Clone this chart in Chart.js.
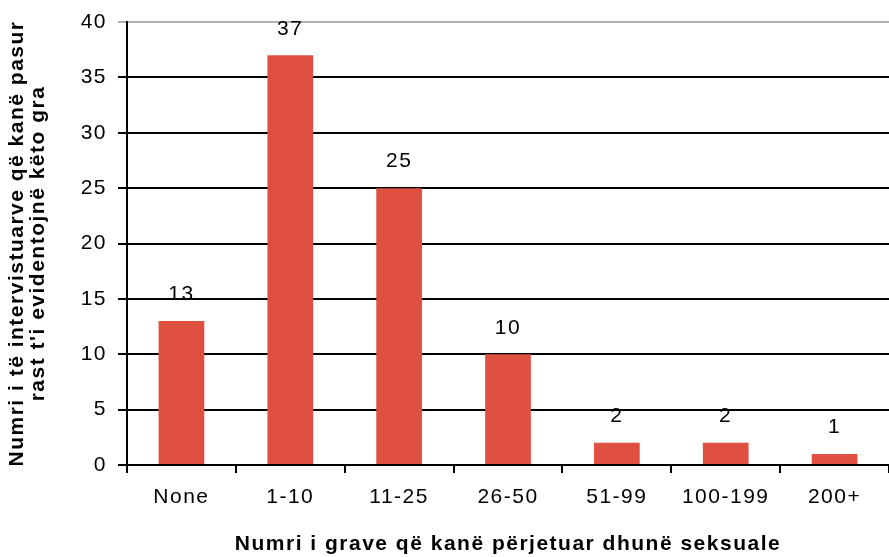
<!DOCTYPE html>
<html>
<head>
<meta charset="utf-8">
<script src="https://cdn.jsdelivr.net/npm/chart.js@4/dist/chart.umd.min.js"></script>
<style>
  html, body { margin: 0; padding: 0; background: #fff; }
  #wrap { width: 889px; height: 557px; }
</style>
</head>
<body>
<div id="wrap"><canvas id="myChart" width="889" height="557"></canvas></div>
<script>
'use strict';
// data
let categories = ['None', '1-10', '11-25', '26-50', '51-99', '100-199', '200+'];
let counts = [13, 37, 25, 10, 2, 2, 1];
let yTicks = [0, 5, 10, 15, 20, 25, 30, 35, 40];
let xTitle = 'Numri i grave që kanë përjetuar dhunë seksuale';
let yTitle = ['Numri i të intervistuarve që kanë pasur', 'rast t\'i evidentojnë këto gra'];

let fontName = '"Liberation Sans", Arial, sans-serif';

// the old picture has wide-set text, so space the letters out a bit
let spacing = {
  id: 'spacing',
  beforeInit(chart) { chart.ctx.letterSpacing = '1.5px'; },
  beforeDraw(chart) { chart.ctx.letterSpacing = '1.5px'; }
};

// draws the number over each bar
let barLabels = {
  id: 'barLabels',
  afterDatasetsDraw(chart) {
    let ctx = chart.ctx;
    let meta = chart.getDatasetMeta(0);
    ctx.save();
    ctx.font = '21px ' + fontName;
    ctx.fillStyle = '#000';
    ctx.textAlign = 'center';
    ctx.textBaseline = 'bottom';
    meta.data.forEach(function(bar, i) {
      ctx.fillText(String(counts[i]), bar.x, bar.y - 16);
    });
    ctx.restore();
  }
};

new Chart(document.getElementById('myChart'), {
  type: 'bar',
  data: {
    labels: categories,
    datasets: [{
      data: counts,
      backgroundColor: '#DF5040',
      categoryPercentage: 1,
      barPercentage: 0.42
    }]
  },
  plugins: [spacing, barLabels],
  options: {
    responsive: false,
    animation: false,
    layout: { padding: { top: 22, right: 0, left: 0, bottom: 0 } },
    plugins: {
      legend: { display: false },
      tooltip: { enabled: false }
    },
    scales: {
      x: {
        grid: { offset: true, drawOnChartArea: false, tickLength: 8, color: '#000', lineWidth: 2 },
        border: { color: '#000', width: 2 },
        ticks: { color: '#000', font: { family: fontName, size: 21 }, padding: 12, maxRotation: 0 },
        title: { display: true, text: xTitle, color: '#000', font: { family: fontName, size: 21, weight: 'bold' }, padding: { top: 12, bottom: 0 } },
        afterFit(scale) { scale.height = 92; }
      },
      y: {
        min: 0,
        max: 40,
        afterBuildTicks(scale) { scale.ticks = yTicks.map(v => ({ value: v })); },
        grid: {
          color: ctx => (ctx.tick && ctx.tick.value === 40) ? '#b0b0b0' : '#000',
          lineWidth: 2,
          tickLength: 9
        },
        border: { color: '#000', width: 2 },
        ticks: { color: '#000', font: { family: fontName, size: 21 }, padding: 11 },
        title: { display: true, text: yTitle, color: '#000', font: { family: fontName, size: 21, weight: 'bold', lineHeight: 1.0 }, padding: { top: 7, bottom: 0 } },
        afterFit(scale) {
          scale.width = 127;
          scale.paddingTop = 0;
          scale.paddingBottom = 0;
        }
      }
    }
  }
});
</script>
</body>
</html>
